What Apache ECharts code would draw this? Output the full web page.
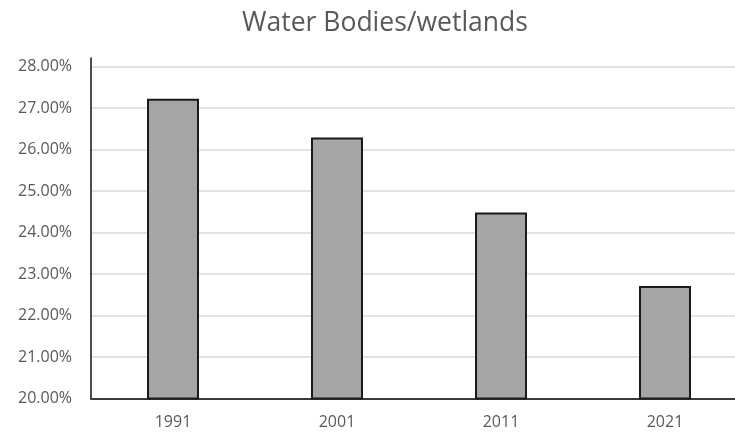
<!DOCTYPE html>
<html>
<head>
<meta charset="utf-8">
<title>Water Bodies/wetlands</title>
<script src="https://cdn.jsdelivr.net/npm/echarts@6/dist/echarts.min.js"></script>
<style>
  html, body { margin: 0; padding: 0; background: #ffffff; }
  #chart { width: 735px; height: 432px; }
</style>
</head>
<body>
<div id="chart"></div>
<script>
// Share of area covered by water bodies / wetlands, by census year (percent)
const years = ['1991', '2001', '2011', '2021'];
const wetlandShare = [27.22, 26.29, 24.48, 22.71];
const axisMin = 20;
const axisMax = 28;
const axisStep = 1;

const textColor = '#595959';
const font = '"Open Sans", "Noto Sans", sans-serif';

const chart = echarts.init(document.getElementById('chart'), null, { renderer: 'canvas' });

chart.setOption({
  backgroundColor: '#ffffff',
  animation: false,
  title: {
    text: 'Water Bodies/wetlands',
    left: 380,
    textAlign: 'center',
    top: 5,
    textStyle: { color: textColor, fontFamily: font, fontSize: 26.5, fontWeight: 'normal' }
  },
  grid: [
    // plot area holding the bars and gridlines; it runs past the right edge
    { left: 91, top: 66.5, width: 656, height: 332, outerBoundsMode: 'none', containLabel: false },
    // carries only the vertical axis line, which runs a little above the plot
    { left: 91, top: 58, width: 656, height: 340.5, outerBoundsMode: 'none', containLabel: false }
  ],
  xAxis: [
    {
      type: 'category',
      gridIndex: 0,
      data: years,
      axisLine: { show: true, lineStyle: { color: '#3a3a3a', width: 2 } },
      axisTick: { show: false },
      axisLabel: { color: textColor, fontFamily: font, fontSize: 16, margin: 16 }
    },
    {
      type: 'category',
      gridIndex: 1,
      data: years,
      show: false
    }
  ],
  yAxis: [
    {
      type: 'value',
      gridIndex: 0,
      min: axisMin,
      max: axisMax,
      interval: axisStep,
      axisLine: { show: false },
      axisTick: { show: false },
      splitLine: { show: true, lineStyle: { color: '#d9d9d9', width: 1.5 } },
      axisLabel: {
        color: textColor, fontFamily: font, fontSize: 16, margin: 19,
        formatter: v => v.toFixed(2) + '%'
      }
    },
    {
      type: 'value',
      gridIndex: 1,
      min: 0,
      max: 1,
      axisLine: { show: true, lineStyle: { color: '#111111', width: 1.5 } },
      axisTick: { show: false },
      axisLabel: { show: false },
      splitLine: { show: false }
    }
  ],
  series: [
    {
      type: 'bar',
      xAxisIndex: 0,
      yAxisIndex: 0,
      data: wetlandShare,
      barWidth: 52,
      itemStyle: { color: '#a5a5a5', borderColor: '#1a1a1a', borderWidth: 2 }
    }
  ]
});
</script>
</body>
</html>
